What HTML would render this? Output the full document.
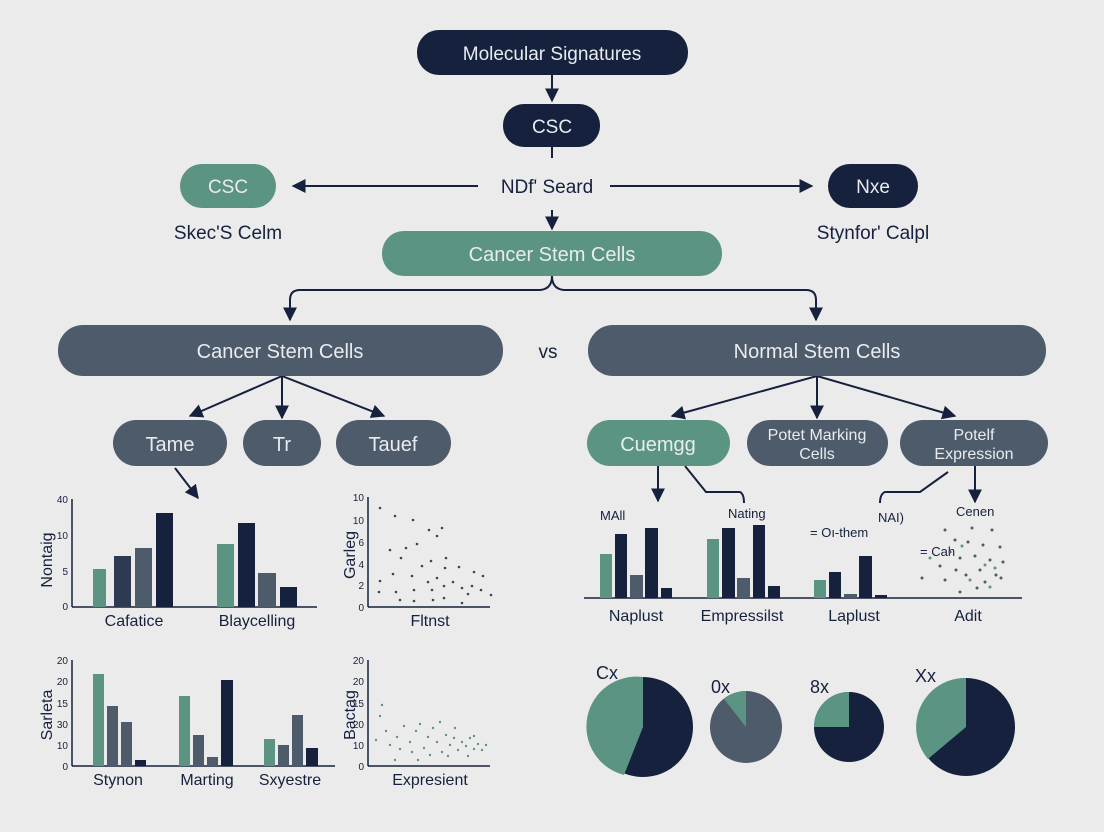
<!DOCTYPE html>
<html><head><meta charset="utf-8"><style>
html,body{margin:0;padding:0;background:#ebebeb;}
svg{display:block;font-family:"Liberation Sans",sans-serif;}
</style></head><body>
<svg width="1104" height="832" viewBox="0 0 1104 832" xmlns="http://www.w3.org/2000/svg">
<defs>
<marker id="a" viewBox="0 0 10 10" refX="9" refY="5" markerWidth="7" markerHeight="7" orient="auto-start-reverse"><path d="M0,0L10,5L0,10z" fill="#15213d"/></marker>
</defs>
<rect width="1104" height="832" fill="#ebebeb"/>
<g stroke="#15213d" stroke-width="2" fill="none">
<line x1="552" y1="75" x2="552" y2="101" marker-end="url(#a)"/>
<line x1="552" y1="147" x2="552" y2="158"/>
<line x1="478" y1="186" x2="293" y2="186" marker-end="url(#a)"/>
<line x1="610" y1="186" x2="812" y2="186" marker-end="url(#a)"/>
<line x1="552" y1="210" x2="552" y2="229" marker-end="url(#a)"/>
<path d="M552,276 Q552,289 540,290 L300,290 Q290,290 290,300 L290,320" marker-end="url(#a)"/>
<path d="M552,276 Q552,289 564,290 L806,290 Q816,290 816,300 L816,320" marker-end="url(#a)"/>
<line x1="282" y1="376" x2="190" y2="416" marker-end="url(#a)"/>
<line x1="282" y1="376" x2="282" y2="418" marker-end="url(#a)"/>
<line x1="282" y1="376" x2="384" y2="416" marker-end="url(#a)"/>
<line x1="817" y1="376" x2="672" y2="416" marker-end="url(#a)"/>
<line x1="817" y1="376" x2="817" y2="418" marker-end="url(#a)"/>
<line x1="817" y1="376" x2="955" y2="416" marker-end="url(#a)"/>
<line x1="175" y1="468" x2="198" y2="498" marker-end="url(#a)"/>
<line x1="658" y1="466" x2="658" y2="501" marker-end="url(#a)"/>
<path d="M685,466 L706,492 L740,492 Q744,494 744,503"/>
<path d="M948,472 L920,492 L885,492 Q880,494 880,503"/>
<line x1="975" y1="466" x2="975" y2="502" marker-end="url(#a)"/>
</g>
<!-- pills -->
<rect x="417" y="30" width="271" height="45" rx="22" fill="#15213d"/>
<text x="552" y="60" font-size="19" fill="#e8ecef" text-anchor="middle">Molecular Signatures</text>
<rect x="503" y="104" width="97" height="43" rx="21" fill="#15213d"/>
<text x="552" y="133" font-size="19" fill="#e8ecef" text-anchor="middle">CSC</text>
<text x="547" y="193" font-size="19" fill="#15213d" text-anchor="middle">NDf' Seard</text>
<rect x="180" y="164" width="96" height="44" rx="22" fill="#5b9482"/>
<text x="228" y="193" font-size="19" fill="#e8ecef" text-anchor="middle">CSC</text>
<rect x="828" y="164" width="90" height="44" rx="22" fill="#15213d"/>
<text x="873" y="193" font-size="19" fill="#e8ecef" text-anchor="middle">Nxe</text>
<text x="228" y="239" font-size="19" fill="#15213d" text-anchor="middle">Skec'S Celm</text>
<text x="873" y="239" font-size="19" fill="#15213d" text-anchor="middle">Stynfor' Calpl</text>
<rect x="382" y="231" width="340" height="45" rx="22" fill="#5b9482"/>
<text x="552" y="261" font-size="20" fill="#e8ecef" text-anchor="middle">Cancer Stem Cells</text>
<rect x="58" y="325" width="445" height="51" rx="25" fill="#4e5b6b"/>
<text x="280" y="358" font-size="20" fill="#e8ecef" text-anchor="middle">Cancer Stem Cells</text>
<text x="548" y="358" font-size="19" fill="#15213d" text-anchor="middle">vs</text>
<rect x="588" y="325" width="458" height="51" rx="25" fill="#4e5b6b"/>
<text x="817" y="358" font-size="20" fill="#e8ecef" text-anchor="middle">Normal Stem Cells</text>
<rect x="113" y="420" width="114" height="46" rx="23" fill="#4e5b6b"/>
<text x="170" y="451" font-size="20" fill="#e8ecef" text-anchor="middle">Tame</text>
<rect x="243" y="420" width="78" height="46" rx="23" fill="#4e5b6b"/>
<text x="282" y="451" font-size="20" fill="#e8ecef" text-anchor="middle">Tr</text>
<rect x="336" y="420" width="115" height="46" rx="23" fill="#4e5b6b"/>
<text x="393" y="451" font-size="20" fill="#e8ecef" text-anchor="middle">Tauef</text>
<rect x="587" y="420" width="143" height="46" rx="23" fill="#5b9482"/>
<text x="658" y="451" font-size="20" fill="#e8ecef" text-anchor="middle">Cuemgg</text>
<rect x="747" y="420" width="141" height="46" rx="23" fill="#4e5b6b"/>
<text x="817" y="440" font-size="16" fill="#e8ecef" text-anchor="middle">Potet Marking</text>
<text x="817" y="459" font-size="16" fill="#e8ecef" text-anchor="middle">Cells</text>
<rect x="900" y="420" width="148" height="46" rx="23" fill="#4e5b6b"/>
<text x="974" y="440" font-size="16" fill="#e8ecef" text-anchor="middle">Potelf</text>
<text x="974" y="459" font-size="16" fill="#e8ecef" text-anchor="middle">Expression</text>

<!-- chart 1 -->
<g stroke="#15213d" stroke-width="1.5"><line x1="72" y1="499" x2="72" y2="607"/><line x1="72" y1="607" x2="317" y2="607"/>
<line x1="368" y1="497" x2="368" y2="607"/><line x1="368" y1="607" x2="490" y2="607"/>
<line x1="72" y1="660" x2="72" y2="766"/><line x1="72" y1="766" x2="335" y2="766"/>
<line x1="368" y1="660" x2="368" y2="766"/><line x1="368" y1="766" x2="490" y2="766"/>
<line x1="584" y1="598" x2="1022" y2="598"/></g>
<g font-size="10" fill="#15213d" text-anchor="end">
<text x="68" y="503">40</text><text x="68" y="539">10</text><text x="68" y="575">5</text><text x="68" y="610">0</text>
<text x="364" y="501">10</text><text x="364" y="524">10</text><text x="364" y="546">6</text><text x="364" y="568">4</text><text x="364" y="589">2</text><text x="364" y="611">0</text>
<text x="68" y="664">20</text><text x="68" y="685">20</text><text x="68" y="707">15</text><text x="68" y="728">30</text><text x="68" y="749">10</text><text x="68" y="770">0</text>
<text x="364" y="664">20</text><text x="364" y="685">20</text><text x="364" y="707">15</text><text x="364" y="728">20</text><text x="364" y="749">10</text><text x="364" y="770">0</text>
</g>
<g font-size="16" fill="#15213d">
<text transform="translate(52,560) rotate(-90)" text-anchor="middle">Nontaig</text>
<text transform="translate(355,555) rotate(-90)" text-anchor="middle">Garleg</text>
<text transform="translate(52,715) rotate(-90)" text-anchor="middle">Sarleta</text>
<text transform="translate(355,715) rotate(-90)" text-anchor="middle">Bactag</text>
</g>
<g font-size="16" fill="#15213d" text-anchor="middle">
<text x="134" y="626">Cafatice</text><text x="257" y="626">Blaycelling</text><text x="430" y="626">Fltnst</text>
<text x="118" y="785">Stynon</text><text x="207" y="785">Marting</text><text x="290" y="785">Sxyestre</text><text x="430" y="785">Expresient</text>
<text x="636" y="621">Naplust</text><text x="742" y="621">Empressilst</text><text x="854" y="621">Laplust</text><text x="968" y="621">Adit</text>
</g>
<g font-size="13" fill="#15213d">
<text x="600" y="520">MAll</text><text x="728" y="518">Nating</text><text x="810" y="537">= Oı-them</text><text x="878" y="522">NAI)</text><text x="956" y="516">Cenen</text><text x="920" y="556">= Cah</text>
</g>
<g>
<rect x="93" y="569" width="13" height="38" fill="#5b9482"/><rect x="114" y="556" width="17" height="51" fill="#2e3a52"/><rect x="135" y="548" width="17" height="59" fill="#4e5b6b"/><rect x="156" y="513" width="17" height="94" fill="#15213d"/>
<rect x="217" y="544" width="17" height="63" fill="#5b9482"/><rect x="238" y="523" width="17" height="84" fill="#15213d"/><rect x="258" y="573" width="18" height="34" fill="#4e5b6b"/><rect x="280" y="587" width="17" height="20" fill="#15213d"/>
<rect x="93" y="674" width="11" height="92" fill="#5b9482"/><rect x="107" y="706" width="11" height="60" fill="#4e5b6b"/><rect x="121" y="722" width="11" height="44" fill="#4e5b6b"/><rect x="135" y="760" width="11" height="6" fill="#15213d"/>
<rect x="179" y="696" width="11" height="70" fill="#5b9482"/><rect x="193" y="735" width="11" height="31" fill="#4e5b6b"/><rect x="207" y="757" width="11" height="9" fill="#4e5b6b"/><rect x="221" y="680" width="12" height="86" fill="#15213d"/>
<rect x="264" y="739" width="11" height="27" fill="#5b9482"/><rect x="278" y="745" width="11" height="21" fill="#4e5b6b"/><rect x="292" y="715" width="11" height="51" fill="#4e5b6b"/><rect x="306" y="748" width="12" height="18" fill="#15213d"/>
<rect x="600" y="554" width="12" height="44" fill="#5b9482"/><rect x="615" y="534" width="12" height="64" fill="#15213d"/><rect x="630" y="575" width="13" height="23" fill="#4e5b6b"/><rect x="645" y="528" width="13" height="70" fill="#15213d"/><rect x="661" y="588" width="11" height="10" fill="#15213d"/>
<rect x="707" y="539" width="12" height="59" fill="#5b9482"/><rect x="722" y="528" width="13" height="70" fill="#15213d"/><rect x="737" y="578" width="13" height="20" fill="#4e5b6b"/><rect x="753" y="525" width="12" height="73" fill="#15213d"/><rect x="768" y="586" width="12" height="12" fill="#15213d"/>
<rect x="814" y="580" width="12" height="18" fill="#5b9482"/><rect x="829" y="572" width="12" height="26" fill="#15213d"/><rect x="844" y="594" width="13" height="4" fill="#4e5b6b"/><rect x="859" y="556" width="13" height="42" fill="#15213d"/><rect x="875" y="595" width="12" height="3" fill="#15213d"/>
</g>
<g fill="#3b4658">
<circle cx="380" cy="508" r="1.3"/><circle cx="395" cy="516" r="1.3"/><circle cx="413" cy="520" r="1.3"/><circle cx="429" cy="530" r="1.3"/><circle cx="442" cy="528" r="1.3"/><circle cx="437" cy="536" r="1.3"/><circle cx="417" cy="544" r="1.3"/><circle cx="390" cy="550" r="1.3"/><circle cx="406" cy="548" r="1.3"/><circle cx="401" cy="558" r="1.3"/><circle cx="431" cy="561" r="1.3"/><circle cx="446" cy="558" r="1.3"/><circle cx="422" cy="566" r="1.3"/><circle cx="445" cy="568" r="1.3"/><circle cx="459" cy="567" r="1.3"/><circle cx="474" cy="572" r="1.3"/><circle cx="393" cy="574" r="1.3"/><circle cx="412" cy="576" r="1.3"/><circle cx="437" cy="578" r="1.3"/><circle cx="453" cy="582" r="1.3"/><circle cx="428" cy="582" r="1.3"/><circle cx="414" cy="590" r="1.3"/><circle cx="444" cy="586" r="1.3"/><circle cx="462" cy="588" r="1.3"/><circle cx="481" cy="590" r="1.3"/><circle cx="472" cy="586" r="1.3"/><circle cx="379" cy="592" r="1.3"/><circle cx="432" cy="590" r="1.3"/><circle cx="380" cy="581" r="1.3"/><circle cx="396" cy="592" r="1.3"/><circle cx="400" cy="600" r="1.3"/><circle cx="414" cy="601" r="1.3"/><circle cx="433" cy="600" r="1.3"/><circle cx="444" cy="598" r="1.3"/><circle cx="462" cy="603" r="1.3"/><circle cx="491" cy="595" r="1.3"/><circle cx="468" cy="594" r="1.3"/><circle cx="483" cy="576" r="1.3"/>
</g>
<g fill="#5b9482">
<circle cx="376" cy="740" r="1.2"/><circle cx="382" cy="705" r="1.2"/><circle cx="380" cy="716" r="1.2"/><circle cx="386" cy="731" r="1.2"/><circle cx="390" cy="745" r="1.2"/><circle cx="397" cy="737" r="1.2"/><circle cx="404" cy="726" r="1.2"/><circle cx="410" cy="742" r="1.2"/><circle cx="416" cy="731" r="1.2"/><circle cx="420" cy="724" r="1.2"/><circle cx="424" cy="748" r="1.2"/><circle cx="428" cy="737" r="1.2"/><circle cx="433" cy="728" r="1.2"/><circle cx="437" cy="742" r="1.2"/><circle cx="442" cy="752" r="1.2"/><circle cx="446" cy="735" r="1.2"/><circle cx="450" cy="745" r="1.2"/><circle cx="454" cy="738" r="1.2"/><circle cx="458" cy="750" r="1.2"/><circle cx="462" cy="742" r="1.2"/><circle cx="466" cy="746" r="1.2"/><circle cx="470" cy="738" r="1.2"/><circle cx="474" cy="749" r="1.2"/><circle cx="478" cy="744" r="1.2"/><circle cx="482" cy="750" r="1.2"/><circle cx="486" cy="745" r="1.2"/><circle cx="400" cy="749" r="1.2"/><circle cx="412" cy="752" r="1.2"/><circle cx="395" cy="760" r="1.2"/><circle cx="430" cy="755" r="1.2"/><circle cx="455" cy="728" r="1.2"/><circle cx="468" cy="756" r="1.2"/><circle cx="440" cy="722" r="1.2"/><circle cx="474" cy="736" r="1.2"/><circle cx="448" cy="756" r="1.2"/><circle cx="418" cy="760" r="1.2"/>
</g>
<g fill="#4e5b6b">
<circle cx="945" cy="530" r="1.5"/><circle cx="972" cy="528" r="1.5"/><circle cx="992" cy="530" r="1.5"/><circle cx="955" cy="540" r="1.5"/><circle cx="968" cy="542" r="1.5"/><circle cx="983" cy="545" r="1.5"/><circle cx="1000" cy="547" r="1.5"/><circle cx="950" cy="552" r="1.5"/><circle cx="960" cy="558" r="1.5"/><circle cx="975" cy="556" r="1.5"/><circle cx="990" cy="560" r="1.5"/><circle cx="1003" cy="562" r="1.5"/><circle cx="940" cy="566" r="1.5"/><circle cx="956" cy="570" r="1.5"/><circle cx="966" cy="575" r="1.5"/><circle cx="980" cy="570" r="1.5"/><circle cx="996" cy="575" r="1.5"/><circle cx="1001" cy="578" r="1.5"/><circle cx="922" cy="578" r="1.5"/><circle cx="945" cy="580" r="1.5"/><circle cx="985" cy="582" r="1.5"/><circle cx="960" cy="592" r="1.5"/><circle cx="977" cy="588" r="1.5"/>
</g>
<g fill="#5b9482"><circle cx="962" cy="546" r="1.5"/><circle cx="985" cy="565" r="1.5"/><circle cx="970" cy="580" r="1.5"/><circle cx="995" cy="568" r="1.5"/><circle cx="990" cy="587" r="1.5"/><circle cx="930" cy="558" r="1.5"/></g>
<!-- pies -->
<circle cx="643" cy="727" r="50" fill="#15213d"/>
<path d="M643,727 L643,677 A50,50 0 0 0 624,775 Z" fill="#5b9482"/>
<circle cx="746" cy="727" r="36" fill="#4e5b6b"/>
<path d="M746,727 L746,691 A36,36 0 0 0 724,699 Z" fill="#5b9482"/>
<circle cx="849" cy="727" r="35" fill="#15213d"/>
<path d="M849,727 L849,692 A35,35 0 0 0 814,727 Z" fill="#5b9482"/>
<circle cx="966" cy="727" r="49" fill="#15213d"/>
<path d="M966,727 L966,678 A49,49 0 0 0 928,759 Z" fill="#5b9482"/>
<g font-size="18" fill="#15213d"><text x="596" y="679">Cx</text><text x="711" y="693">0x</text><text x="810" y="693">8x</text><text x="915" y="682">Xx</text></g>
</svg>
</body></html>
